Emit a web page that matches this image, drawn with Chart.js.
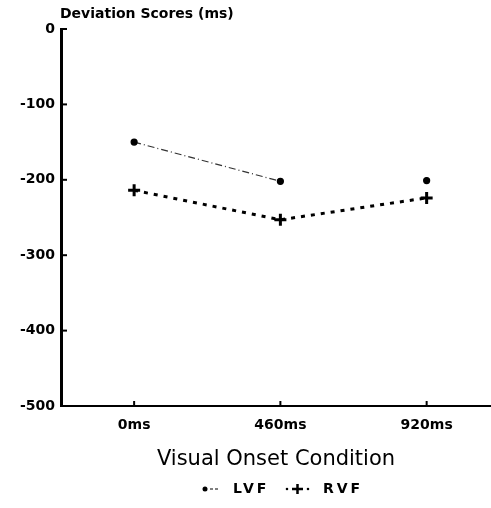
<!DOCTYPE html>
<html>
<head>
<meta charset="utf-8">
<script src="https://cdn.jsdelivr.net/npm/chart.js@4.4.1/dist/chart.umd.min.js"></script>
<style>
    html, body { margin: 0; padding: 0; background: #fff; }
    #wrap { width: 491px; height: 508px; }
</style>
</head>
<body>
<div id="wrap"><canvas id="chart" width="491" height="508"></canvas></div>
<script>
// Data
const conditions = ['0ms', '460ms', '920ms'];
const lvfScores = [-150, -202, -201];
const rvfScores = [-214, -253, -224];
const yTicks = [0, -100, -200, -300, -400, -500];
const seriesNames = ['LVF', 'RVF'];
const yTitle = 'Deviation Scores (ms)';
const xTitle = 'Visual Onset Condition';

Chart.defaults.font.family = '"DejaVu Sans", sans-serif';
Chart.defaults.color = '#000';

const toPoints = arr => arr.map((v, i) => ({ x: i, y: v }));

// Inward tick marks, the y-axis caption and the small legend
const decorations = {
    id: 'decorations',
    afterDraw(chart) {
        const { ctx, chartArea: a, scales: { x, y } } = chart;
        ctx.save();
        ctx.strokeStyle = '#000';
        ctx.fillStyle = '#000';
        ctx.lineWidth = 2;
        yTicks.forEach(v => {
            const py = y.getPixelForValue(v);
            ctx.beginPath();
            ctx.moveTo(a.left, py);
            ctx.lineTo(a.left + 6, py);
            ctx.stroke();
        });
        conditions.forEach((c, i) => {
            const px = x.getPixelForValue(i);
            ctx.beginPath();
            ctx.moveTo(px, a.bottom);
            ctx.lineTo(px, a.bottom - 5);
            ctx.stroke();
        });

        ctx.font = 'bold 14px "DejaVu Sans"';
        ctx.textAlign = 'left';
        ctx.textBaseline = 'middle';
        ctx.fillText(yTitle, a.left - 1, 14);

        // legend
        const ly = 489;
        ctx.font = 'bold 14px "DejaVu Sans"';
        ctx.letterSpacing = '3px';
        // LVF sample
        ctx.beginPath();
        ctx.arc(205, ly, 2.5, 0, Math.PI * 2);
        ctx.fill();
        ctx.lineWidth = 1.2;
        ctx.beginPath();
        ctx.moveTo(210, ly); ctx.lineTo(213, ly);
        ctx.moveTo(215, ly); ctx.lineTo(218, ly);
        ctx.stroke();
        ctx.fillText(seriesNames[0], 233, ly);
        // RVF sample
        ctx.beginPath();
        ctx.arc(287, ly, 1.3, 0, Math.PI * 2);
        ctx.arc(308, ly, 1.3, 0, Math.PI * 2);
        ctx.fill();
        ctx.lineWidth = 2.5;
        ctx.beginPath();
        ctx.moveTo(292, ly); ctx.lineTo(303, ly);
        ctx.moveTo(297.5, ly - 5); ctx.lineTo(297.5, ly + 5);
        ctx.stroke();
        ctx.fillText(seriesNames[1], 323, ly);
        ctx.restore();
    }
};

new Chart(document.getElementById('chart'), {
    type: 'line',
    data: {
        datasets: [
            {
                label: seriesNames[0],
                data: toPoints(lvfScores),
                borderColor: '#333',
                borderWidth: 1.2,
                borderDash: [7, 3, 1, 3],
                segment: {
                    // the second LVF segment has faded out of the scan
                    borderColor: ctx => ctx.p0DataIndex === 1 ? 'rgba(0,0,0,0)' : '#333'
                },
                pointStyle: 'circle',
                pointRadius: 3,
                pointBackgroundColor: '#000',
                pointBorderColor: '#000',
                tension: 0
            },
            {
                label: seriesNames[1],
                data: toPoints(rvfScores),
                borderColor: '#000',
                borderWidth: 3,
                borderDash: [4, 6],
                pointStyle: 'cross',
                pointRadius: 6,
                pointBorderWidth: 3,
                pointBorderColor: '#000',
                tension: 0
            }
        ]
    },
    options: {
        responsive: false,
        animation: false,
        devicePixelRatio: 1,
        layout: { autoPadding: false, padding: { top: 29, left: 0, right: 0, bottom: 36 } },
        plugins: {
            legend: { display: false },
            tooltip: { enabled: false }
        },
        scales: {
            x: {
                type: 'linear',
                min: -0.5,
                max: 2.44,
                afterBuildTicks: scale => { scale.ticks = conditions.map((c, i) => ({ value: i })); },
                afterFit: scale => { scale.paddingLeft = 0; scale.paddingRight = 0; },
                ticks: {
                    padding: 11,
                    font: { size: 14, weight: 'bold' },
                    callback: v => conditions[v]
                },
                grid: { drawOnChartArea: false, drawTicks: false },
                border: { color: '#000', width: 2 },
                title: {
                    display: true,
                    text: xTitle,
                    font: { size: 21 },
                    padding: { top: 2, bottom: 0 }
                }
            },
            y: {
                min: -500,
                max: 0,
                afterBuildTicks: scale => { scale.ticks = yTicks.map(v => ({ value: v })); },
                afterFit: scale => { scale.width = 61; },
                ticks: {
                    padding: 6,
                    font: { size: 14, weight: 'bold' }
                },
                grid: { drawOnChartArea: false, drawTicks: false },
                border: { color: '#000', width: 3 }
            }
        }
    },
    plugins: [decorations]
});
</script>
</body>
</html>
